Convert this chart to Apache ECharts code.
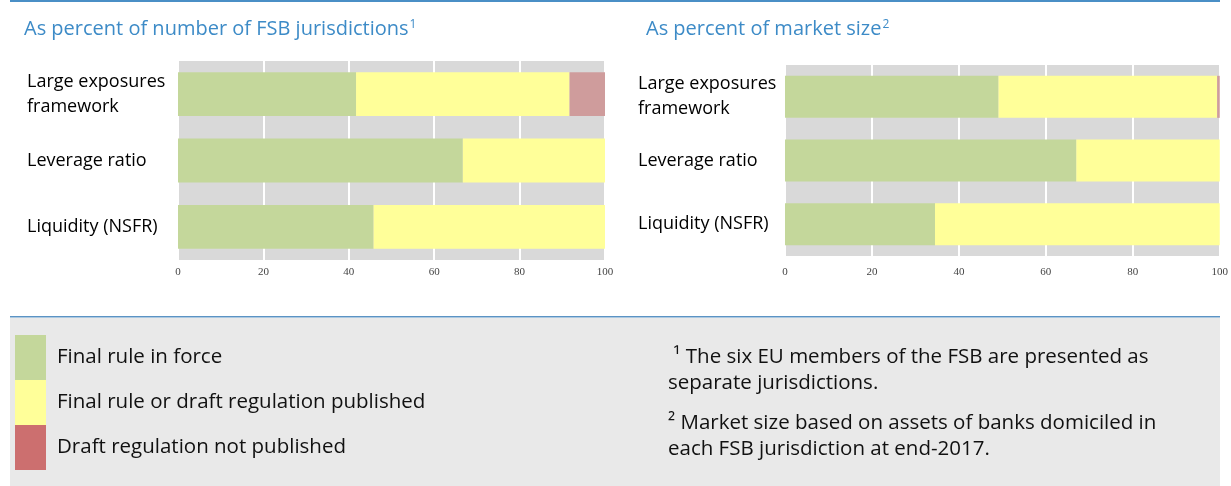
<!DOCTYPE html>
<html>
<head>
<meta charset="utf-8">
<script src="https://cdn.jsdelivr.net/npm/echarts@6/dist/echarts.min.js"></script>
<style>
  body { margin: 0; background: #fff; }
  #chart { width: 1231px; height: 486px; }
</style>
</head>
<body>
<div id="chart"></div>
<script>
// categories (top to bottom)
const categories = ['Large exposures\nframework', 'Leverage ratio', 'Liquidity (NSFR)'];
const xTicks = [0, 20, 40, 60, 80, 100];

// as percent of number of FSB jurisdictions
const jurInForce = [41.7, 66.7, 45.8];
const jurPublished = [50.0, 33.3, 54.2];
const jurNotPublished = [8.3, 0, 0];

// as percent of market size
const mktInForce = [49.1, 67.0, 34.5];
const mktPublished = [50.3, 33.0, 65.5];
const mktNotPublished = [0.6, 0, 0];

const seriesNames = ['Final rule in force', 'Final rule or draft regulation published', 'Draft regulation not published'];
const barColors = ['#c4d79b', '#ffff99', '#cf9c9c'];
const legendColors = ['#c4d79b', '#ffff99', '#cc6f6f'];

const font = '"Open Sans", sans-serif';

const chart = echarts.init(document.getElementById('chart'));

function makeX(idx, margin) {
  return {
    type: 'value', gridIndex: idx, min: xTicks[0], max: xTicks[xTicks.length - 1], interval: 20,
    axisLine: { show: false }, axisTick: { show: false },
    splitLine: { lineStyle: { color: '#ffffff', width: 2 } },
    axisLabel: { fontFamily: '"Liberation Serif", serif', fontSize: 11, color: '#444', margin: margin }
  };
}
function makeY(idx, margin) {
  return {
    type: 'category', gridIndex: idx, data: categories, inverse: true,
    axisLine: { show: false }, axisTick: { show: false },
    axisLabel: { align: 'left', margin: margin, fontFamily: font, fontSize: 18, color: '#000', lineHeight: 25 }
  };
}
function bar(name, data, idx, color) {
  return {
    name: name, type: 'bar', stack: 'g' + idx, xAxisIndex: idx, yAxisIndex: idx,
    data: data, barCategoryGap: '34%', itemStyle: { color: color }
  };
}
function titleRich() {
  return {
    t: { fontFamily: font, fontSize: 20, fontWeight: 'normal', color: '#3d8bc7' },
    s: { fontFamily: font, fontSize: 12, fontWeight: 'normal', color: '#3d8bc7', verticalAlign: 'top', padding: [0, 0, 9, 1] }
  };
}

const option = {
  animation: false,
  title: [
    { left: 19, top: 14, text: '{t|As percent of number of FSB jurisdictions}{s|1}', textStyle: { rich: titleRich() } },
    { left: 641, top: 14, text: '{t|As percent of market size}{s|2}', textStyle: { rich: titleRich() } }
  ],
  graphic: [
    { type: 'rect', z: -10, shape: { x: 10, y: 0, width: 1210, height: 2 }, style: { fill: '#4a8fc6' } },
    { type: 'rect', z: -10, shape: { x: 10, y: 318, width: 1210, height: 168 }, style: { fill: '#e9e9e9' } },
    { type: 'rect', z: -9, shape: { x: 10, y: 316, width: 1210, height: 1.5 }, style: { fill: '#5b93c4' } },
    {
      type: 'text', left: 668, top: 344,
      style: {
        text: ' ¹ The six EU members of the FSB are presented as\nseparate jurisdictions.',
        fontFamily: font, fontSize: 20.5, fill: '#111', lineHeight: 26
      }
    },
    {
      type: 'text', left: 668, top: 410,
      style: {
        text: '² Market size based on assets of banks domiciled in\neach FSB jurisdiction at end-2017.',
        fontFamily: font, fontSize: 20.5, fill: '#111', lineHeight: 26
      }
    }
  ],
  legend: {
    left: 10, top: 330, orient: 'vertical', itemWidth: 31, itemHeight: 45, itemGap: 0,
    selectedMode: false, icon: 'rect',
    textStyle: { fontFamily: font, fontSize: 20.5, color: '#111', padding: [0, 0, 10, 6] },
    data: seriesNames.map((n, i) => ({ name: n, itemStyle: { color: legendColors[i] } }))
  },
  grid: [
    { left: 178, top: 61, width: 427, height: 199, show: true, backgroundColor: '#d9d9d9', borderWidth: 0 },
    { left: 785, top: 65, width: 435, height: 191, show: true, backgroundColor: '#d9d9d9', borderWidth: 0 }
  ],
  xAxis: [makeX(0, 7), makeX(1, 11)],
  yAxis: [makeY(0, 151), makeY(1, 147)],
  series: [
    bar(seriesNames[0], jurInForce, 0, barColors[0]),
    bar(seriesNames[1], jurPublished, 0, barColors[1]),
    bar(seriesNames[2], jurNotPublished, 0, barColors[2]),
    bar(seriesNames[0], mktInForce, 1, barColors[0]),
    bar(seriesNames[1], mktPublished, 1, barColors[1]),
    bar(seriesNames[2], mktNotPublished, 1, barColors[2])
  ]
};
chart.setOption(option);
</script>
</body>
</html>
